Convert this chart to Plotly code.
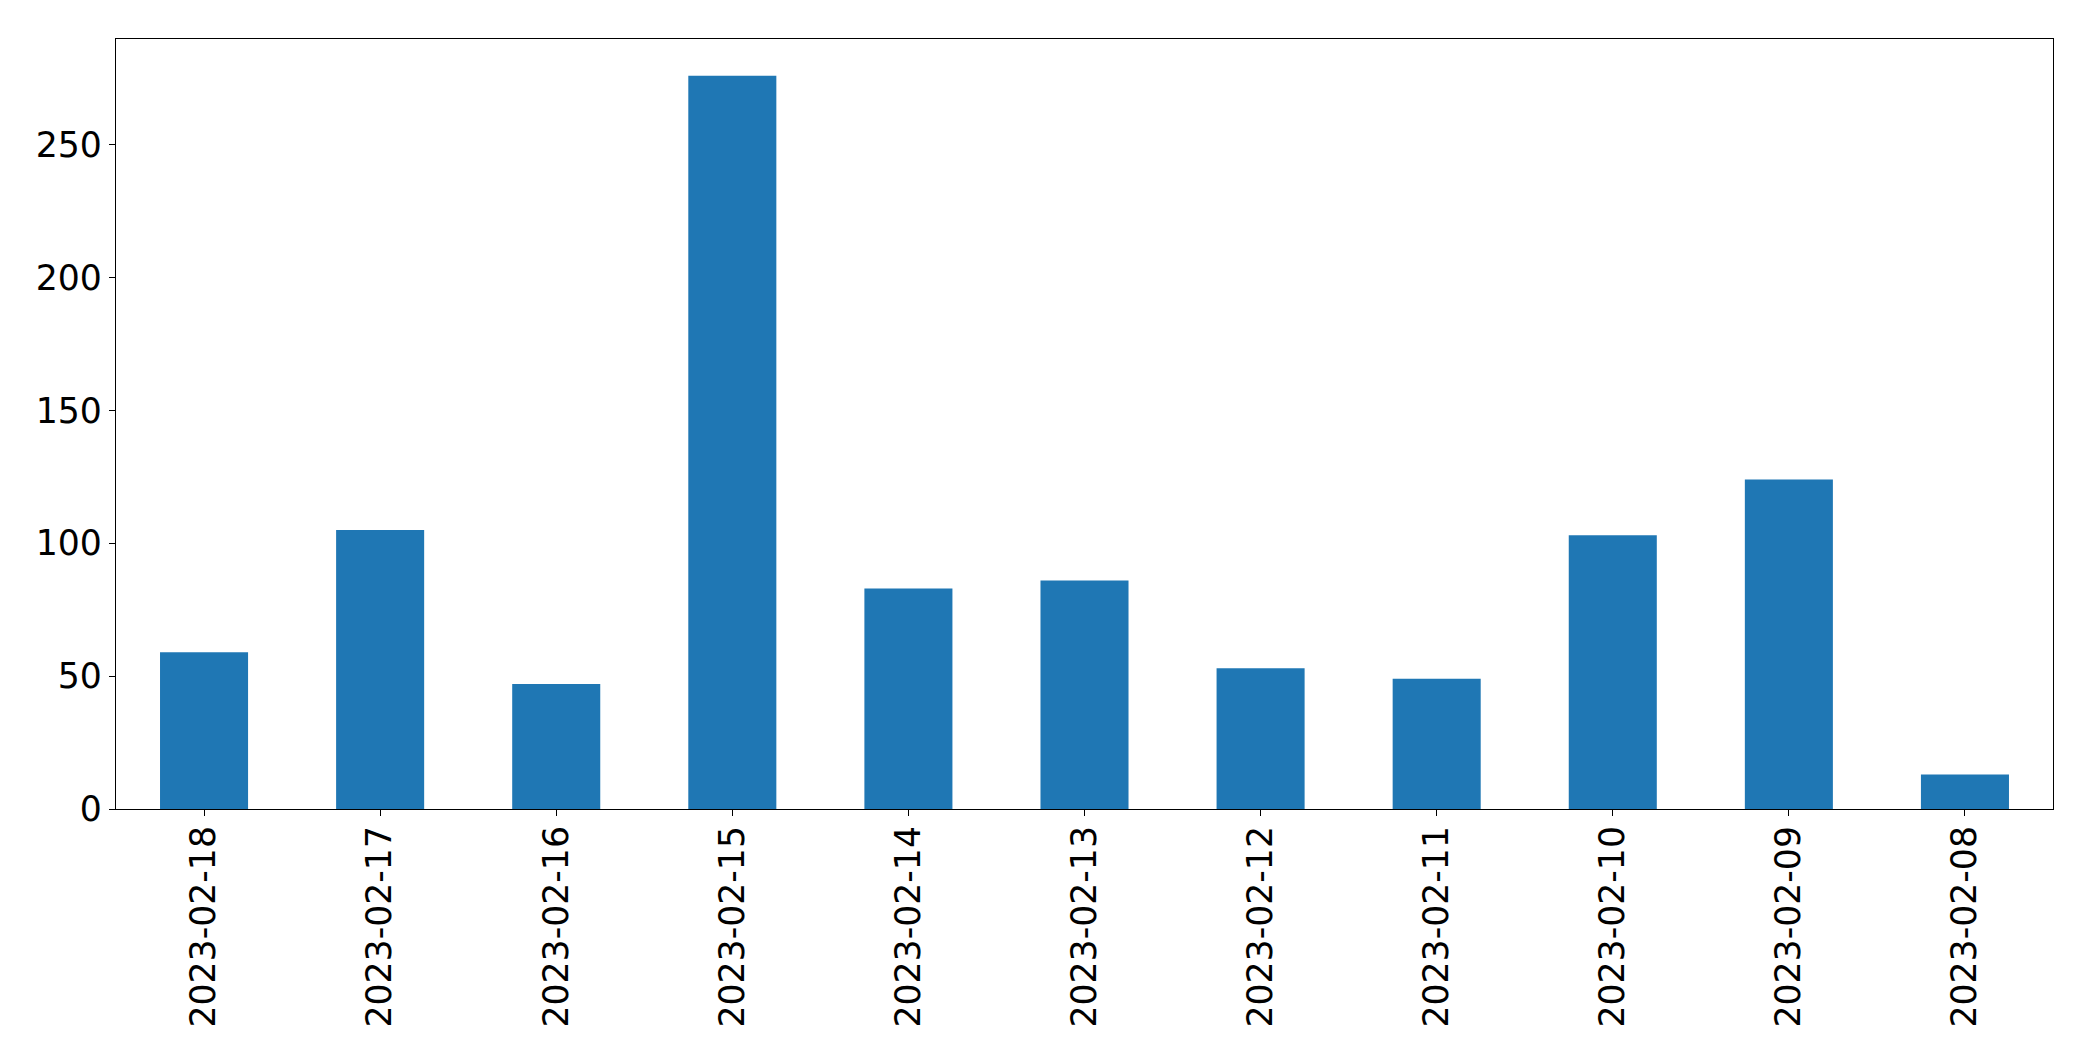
import plotly.graph_objects as go

dates = ["2023-02-18", "2023-02-17", "2023-02-16", "2023-02-15", "2023-02-14",
         "2023-02-13", "2023-02-12", "2023-02-11", "2023-02-10", "2023-02-09", "2023-02-08"]
counts = [59, 105, 47, 276, 83, 86, 53, 49, 103, 124, 13]
y_ticks = [0, 50, 100, 150, 200, 250]

fig = go.Figure(go.Bar(x=dates, y=counts, marker=dict(color="#1f77b4", line=dict(width=0))))

fig.update_layout(
    width=2093, height=1061,
    paper_bgcolor="white", plot_bgcolor="white",
    margin=dict(l=108, r=48, t=31, b=260),
    bargap=0.5,
    font=dict(family="DejaVu Sans", size=34.7, color="black"),
    showlegend=False,
)
fig.update_xaxes(
    type="category", range=[-0.5, 10.5], tickangle=-90,
    showline=True, linecolor="black", linewidth=1.3, mirror=True,
    ticks="outside", ticklen=6, tickcolor="black", tickwidth=1.3,
    ticklabelstandoff=-4,
    showgrid=False, tickfont=dict(size=34.7, family="DejaVu Sans"),
)
fig.update_yaxes(
    range=[0, 289.8], tickvals=y_ticks, ticktext=[str(v) for v in y_ticks],
    showline=True, linecolor="black", linewidth=1.3, mirror=True,
    ticks="outside", ticklen=6, tickcolor="black", tickwidth=1.3,
    showgrid=False, zeroline=False, tickfont=dict(size=34.7, family="DejaVu Sans"),
)

fig.write_html("out.html")
